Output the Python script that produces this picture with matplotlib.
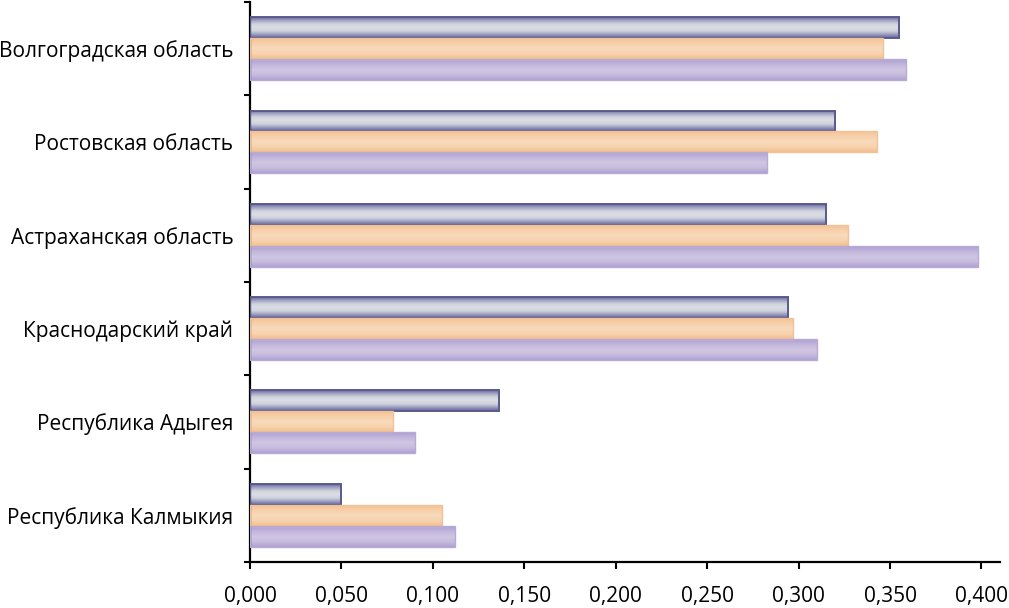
'''
Horizontal grouped bars by region, Excel style gradient fills
'''
import numpy
import matplotlib
matplotlib.use('Agg')
import matplotlib.pyplot as plt
from matplotlib.colors import to_rgb
from matplotlib.ticker import FixedLocator, FuncFormatter

regions  = ['Волгоградская область', 'Ростовская область', 'Астраханская область',
            'Краснодарский край', 'Республика Адыгея', 'Республика Калмыкия']
series_a = [0.355, 0.320, 0.315, 0.294, 0.136, 0.050]
series_b = [0.346, 0.343, 0.327, 0.297, 0.078, 0.105]
series_c = [0.359, 0.283, 0.398, 0.310, 0.090, 0.112]

grad_a = ['#68689a', '#a4a6c6', '#d2d4de', '#dcdee4', '#cfd1dc', '#9a9cc0', '#64649a']
grad_b = ['#f5c294', '#f7d0aa', '#f8dabc', '#f7d2ae', '#f4c08e']
grad_c = ['#ada0d2', '#c2b6dc', '#d0c6e2', '#c8bcde', '#b0a2d2']
edge_a = '#5a5a8c'
edge_b = '#f0c29a'
edge_c = '#b8aad6'
# ------------------------------------
def _gradient(stops : list[str], n : int = 64) -> numpy.ndarray:
    arr_c = numpy.array([to_rgb(c) for c in stops])
    arr_s = numpy.linspace(0, 1, len(stops))
    arr_t = numpy.linspace(0, 1, n)
    img   = numpy.stack([numpy.interp(arr_t, arr_s, arr_c[:, i]) for i in range(3)], axis=-1)
    return img[:, None, :]
# ------------------------------------
def _fill_bars(ax, bars, stops : list[str]) -> None:
    img = _gradient(stops)
    for patch in bars.patches:
        x0, y0 = patch.get_x(), patch.get_y()
        w, h   = patch.get_width(), patch.get_height()
        im = ax.imshow(img, extent=(x0, x0 + w, y0 + h, y0), origin='upper',
                       aspect='auto', interpolation='bilinear', zorder=2)
        im.set_clip_path(patch)
# ------------------------------------
def main():
    plt.rcParams['font.family'] = ['Open Sans', 'DejaVu Sans']

    fig = plt.figure(figsize=(10.09, 6.08), dpi=100)
    ax  = fig.add_axes([0.2478, 0.0757, 0.743, 0.921])

    ypos   = numpy.arange(len(regions))
    height = 0.225
    l_ser  = [(series_a, grad_a, edge_a, -height, 1.4),
              (series_b, grad_b, edge_b, 0.0, 1.0),
              (series_c, grad_c, edge_c, height, 1.0)]

    for values, stops, edge, off, lw in l_ser:
        bars = ax.barh(ypos + off, values, height=height, facecolor='none',
                       edgecolor=edge, linewidth=lw, zorder=3)
        _fill_bars(ax, bars, stops)

    ax.set_xlim(0, 0.41)
    ax.set_ylim(len(regions) - 0.5, -0.5)

    ax.set_yticks(ypos)
    ax.set_yticklabels(regions, fontsize=15)
    ax.yaxis.set_minor_locator(FixedLocator(numpy.arange(-0.5, len(regions), 1.0)))
    ax.tick_params(axis='y', which='major', length=0, pad=12)
    ax.tick_params(axis='y', which='minor', length=4, width=1.5, direction='out')

    ax.set_xticks(numpy.arange(0, 0.401, 0.05))
    ax.xaxis.set_major_formatter(FuncFormatter(lambda v, _: f'{v:.3f}'.replace('.', ',')))
    ax.tick_params(axis='x', length=5, width=1.5, labelsize=15, pad=12)

    for side in ['top', 'right']:
        ax.spines[side].set_visible(False)
    for side in ['left', 'bottom']:
        ax.spines[side].set_linewidth(1.6)

    fig.savefig('out.png', dpi=100)
    plt.close(fig)
# ------------------------------------
if __name__ == '__main__':
    main()
